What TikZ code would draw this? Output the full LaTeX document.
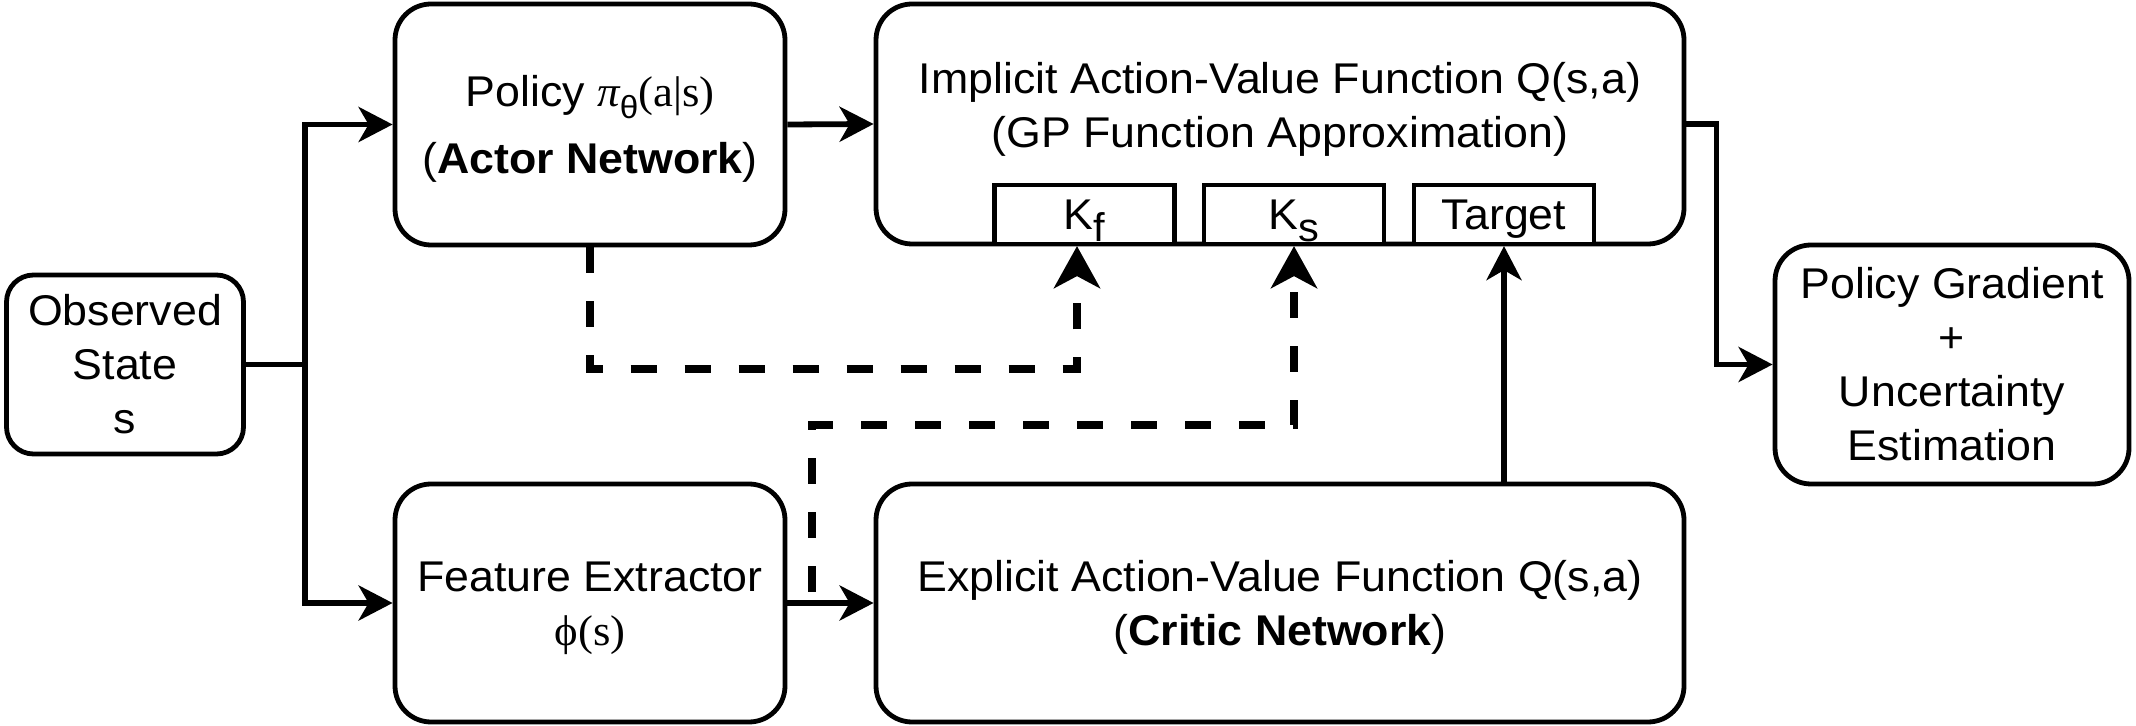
\documentclass[tikz,border=0pt]{standalone}
\usepackage{fontspec}
\setmainfont{Liberation Sans}[FakeStretch=1.04]
\newfontfamily\tmsf{Liberation Serif}[FakeStretch=1.04]
\usetikzlibrary{arrows.meta,calc}
\newcommand\mystrut{\rule[-5.8pt]{0pt}{27pt}}
\newcommand\lowsub[2]{\raisebox{-6pt}{\fontsize{#1}{#1}\selectfont #2}}
\begin{document}
\begin{tikzpicture}[x=0.5pt,y=-0.5pt,
  every node/.style={font=\fontsize{21.5pt}{27pt}\selectfont, align=center, inner sep=0pt},
  box/.style={draw, line width=2.4pt, rounded corners=18pt},
  subbox/.style={draw, line width=2.1pt, fill=white, minimum width=90pt, minimum height=29.5pt},
  conn/.style={line width=2.9pt, -{Stealth[length=17pt,width=17.5pt,inset=5pt]}},
  plainconn/.style={line width=2.9pt},
  dconn/.style={line width=3.9pt, dash pattern=on 13pt off 14pt, -{Stealth[length=21pt,width=23pt,inset=6pt]}},
]
\useasboundingbox (0,0) rectangle (2136,726);

% boxes
\node[box, rounded corners=13.5pt, minimum width=118.5pt, minimum height=89.5pt] (obs) at (125,364.5)
  {\mystrut Observed\\\mystrut State\\\mystrut s};
\node[box, minimum width=195pt, minimum height=120.5pt] (pol) at (590,124.5)
  {\mystrut Policy {\tmsf\itshape π}\lowsub{16pt}{θ}{\tmsf(a|s)}\\[5.5pt]\mystrut({\bfseries Actor Network})};
\node[box, minimum width=195pt, minimum height=119pt] (fe) at (590,603)
  {\mystrut Feature Extractor\\\mystrut{\tmsf ϕ(s)}};
\node[box, minimum width=404pt, minimum height=120pt] (impl) at (1280,124) {};
\node (impltxt) at (1280,105.5)
  {\mystrut Implicit Action-Value Function Q(s,a)\\\mystrut (GP Function Approximation)};
\node[box, minimum width=404pt, minimum height=119pt] (expl) at (1280,603)
  {\mystrut Explicit Action-Value Function Q(s,a)\\\mystrut ({\bfseries Critic Network})};
\node[box, minimum width=177pt, minimum height=119.5pt] (pg) at (1952,364.5)
  {\mystrut Policy Gradient\\\mystrut +\\\mystrut Uncertainty\\\mystrut Estimation};

% sub boxes
\node[subbox] (kf) at (1084.5,214.5) {\mystrut K\lowsub{20pt}{f}};
\node[subbox] (ks) at (1294,214.5) {\mystrut K\lowsub{20pt}{s}};
\node[subbox] (tg) at (1504,214.5) {\mystrut Target};

% connectors
\coordinate (j) at (305,364.5);
\draw[plainconn] (obs.east) -- (j);
\draw[conn] (j) |- (pol.west);
\draw[conn] (j) |- (fe.west);
\draw[conn] (pol.east) -- (impl.west);
\draw[conn] (fe.east) -- (expl.west);
\draw[conn] (expl.north -| tg.south) -- (tg.south);
\draw[conn] (impl.east) -- ++(30,0) |- (pg.west);

% dashed connectors
\draw[dconn] (pol.south) -- ++(0,121.5) -| ([xshift=-3.75pt]kf.south);
\coordinate (d2) at (812,592);
\draw[dconn] (d2) -- ++(0,-167) -| (ks.south);
\end{tikzpicture}
\end{document}
